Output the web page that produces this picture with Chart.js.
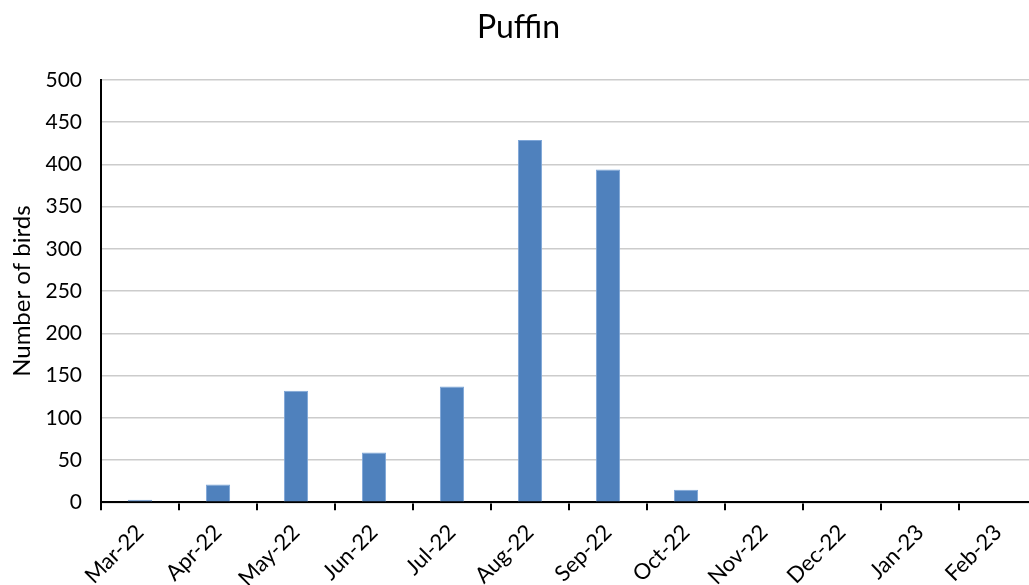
<!DOCTYPE html>
<html>
<head>
<meta charset="utf-8">
<script src="https://cdn.jsdelivr.net/npm/chart.js@4.4.1/dist/chart.umd.min.js"></script>
<style>
  html, body { margin: 0; padding: 0; background: #fff; overflow: hidden; }
  #wrap { width: 1040px; height: 585px; position: relative; }
</style>
</head>
<body>
<div id="wrap"><canvas id="puffinChart"></canvas></div>
<script>
// monthly puffin counts
const months = ['Mar-22', 'Apr-22', 'May-22', 'Jun-22', 'Jul-22', 'Aug-22',
                'Sep-22', 'Oct-22', 'Nov-22', 'Dec-22', 'Jan-23', 'Feb-23'];
const birdCounts = [3, 21, 132, 59, 137, 429, 394, 15, 0, 0, 0, 0];

const fontFamily = 'Lato, "Open Sans", sans-serif';
const ctx = document.getElementById('puffinChart');

var myChart = new Chart(ctx, {
  type: 'bar',
  data: {
    labels: months,
    datasets: [{
      label: 'Puffin',
      data: birdCounts,
      backgroundColor: '#4f81bd',
      borderColor: '#7ea6d8',
      borderWidth: 1,
      barPercentage: 0.31,
      categoryPercentage: 1
    }]
  },
  options: {
    responsive: true,
    maintainAspectRatio: false,
    animation: false,
    layout: { padding: { left: 0, right: 3, top: 0, bottom: 0 } },
    plugins: {
      legend: { display: false },
      tooltip: { enabled: false },
      title: {
        display: true,
        text: 'Puffin',
        color: '#000',
        font: { family: fontFamily, size: 32, weight: 'normal' },
        padding: { top: 8, bottom: 33.6 }
      }
    },
    scales: {
      x: {
        grid: {
          display: true,
          offset: true,
          drawOnChartArea: false,
          drawTicks: true,
          tickLength: 8,
          color: '#000',
          lineWidth: 2
        },
        border: { display: true, color: '#000', width: 2 },
        ticks: {
          color: '#000',
          font: { family: fontFamily, size: 22 },
          minRotation: 45,
          maxRotation: 45,
          padding: 9,
          autoSkip: false
        },
        afterFit: function(scale) { scale.height = 82.7; }
      },
      y: {
        min: 0,
        max: 500,
        grid: {
          color: '#cccccc',
          lineWidth: 1.5,
          drawTicks: false
        },
        border: { display: true, color: '#000', width: 2 },
        ticks: {
          stepSize: 50,
          color: '#000',
          font: { family: fontFamily, size: 21 },
          padding: 19
        },
        title: {
          display: true,
          text: 'Number of birds',
          color: '#000',
          font: { family: fontFamily, size: 24 },
          padding: { top: 7.6, bottom: 0 }
        },
        afterFit: function(scale) { scale.width = 101; }
      }
    }
  }
});
</script>
</body>
</html>
